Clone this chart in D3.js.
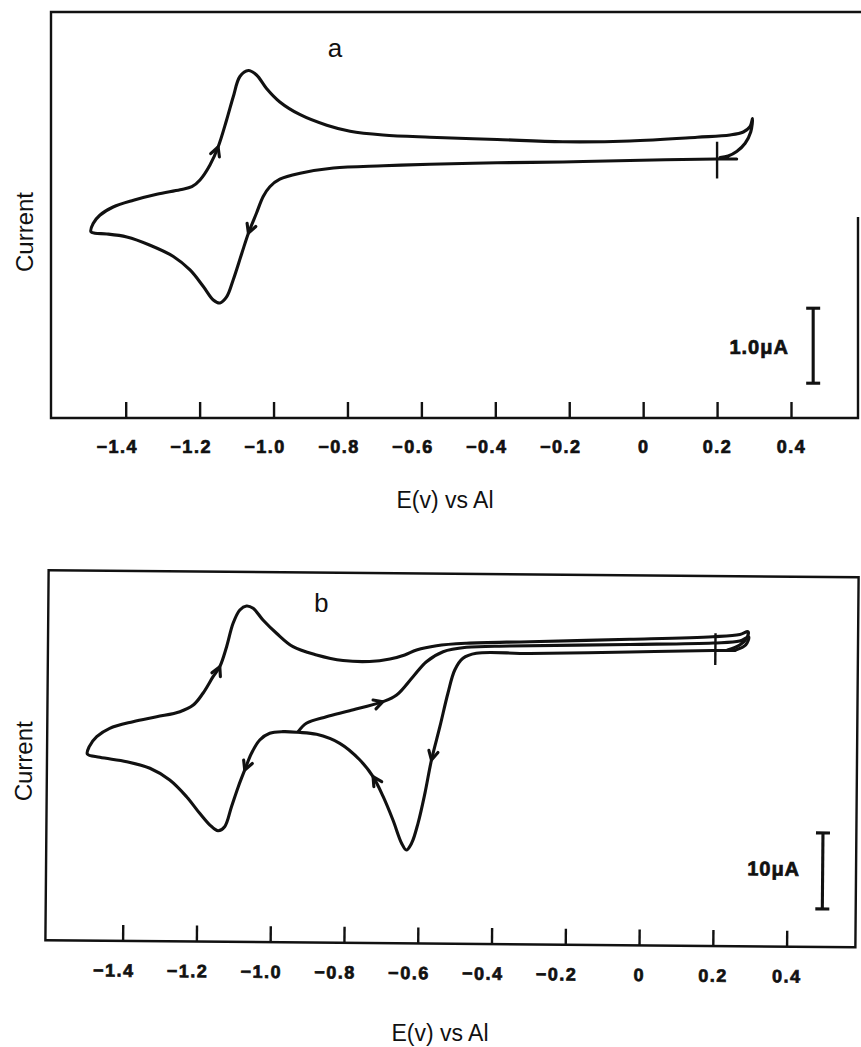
<!DOCTYPE html>
<html>
<head>
<meta charset="utf-8">
<script src="https://cdn.jsdelivr.net/npm/d3@7"></script>
<style>
  html, body { margin: 0; padding: 0; background: #fff; }
  svg { display: block; }
  text { font-family: "Liberation Sans", Arial, Helvetica, sans-serif; fill: #111; }
</style>
</head>
<body>
<svg id="chart" width="861" height="1047"></svg>
<script>
// ---- axis ticks (potential, V vs Al) ----
const tickValues = [-1.4, -1.2, -1.0, -0.8, -0.6, -0.4, -0.2, 0, 0.2, 0.4];
const tickLabels = ["\u22121.4", "\u22121.2", "\u22121.0", "\u22120.8", "\u22120.6", "\u22120.4", "\u22120.2", "0", "0.2", "0.4"];

// ---- voltammogram a: one cycle, scan order from the start potential ----
const potentialA = [
  0.253, 0.199, -0.036, -0.217, -0.395, -0.577, -0.703, -0.838, -0.928, -0.983,
  -1.010, -1.028, -1.046, -1.068, -1.086, -1.109, -1.127, -1.145, -1.163, -1.190,
  -1.226, -1.271, -1.334, -1.397, -1.451, -1.483, -1.494,
  -1.488, -1.470, -1.434, -1.379, -1.316, -1.253, -1.221, -1.199, -1.172, -1.150,
  -1.127, -1.109, -1.091, -1.068, -1.046, -1.019, -0.983, -0.928, -0.856, -0.793,
  -0.704, -0.577, -0.395, -0.217, -0.036, 0.146, 0.235, 0.271, 0.289, 0.296,
  0.291, 0.276, 0.253, 0.230, 0.208
];
const currentA = [
  -0.12, -0.12, -0.14, -0.16, -0.17, -0.19, -0.21, -0.24, -0.31, -0.39,
  -0.49, -0.62, -0.84, -1.11, -1.38, -1.73, -1.96, -2.04, -2.00, -1.82,
  -1.60, -1.42, -1.27, -1.16, -1.12, -1.11, -1.09,
  -0.98, -0.87, -0.76, -0.67, -0.59, -0.53, -0.49, -0.40, -0.20, 0.04,
  0.40, 0.71, 0.98, 1.06, 1.00, 0.82, 0.64, 0.47, 0.33, 0.25,
  0.20, 0.17, 0.14, 0.11, 0.12, 0.17, 0.20, 0.24, 0.31, 0.42,
  0.24, 0.09, -0.02, -0.08, -0.10
];
const arrowsA = [13, 36];          // sample indices carrying a direction arrow
const startPotentialA = 0.2;
const startMarkA = [0.11, -0.38];  // current span of the start-potential mark (uA)
const scaleBarA = { potential: 0.46, top: -2.11, span: 1.0, label: "1.0\u03bcA" };

// ---- voltammogram b: full cycle to -1.5 V ----
const potentialB1 = [
  0.253, 0.193, -0.032, -0.303, -0.448, -0.484, -0.506, -0.524, -0.545, -0.567,
  -0.584, -0.602, -0.619, -0.633, -0.646, -0.670, -0.697, -0.725, -0.761, -0.816,
  -0.879, -0.929, -0.970, -1.006, -1.033, -1.055, -1.073, -1.090, -1.108, -1.126,
  -1.144, -1.166, -1.194, -1.230, -1.276, -1.330, -1.393, -1.466, -1.500,
  -1.495, -1.475, -1.440, -1.377, -1.313, -1.250, -1.214, -1.188, -1.161, -1.143,
  -1.125, -1.108, -1.090, -1.072, -1.054, -1.027, -0.990, -0.945, -0.881, -0.809,
  -0.737, -0.682, -0.642, -0.610, -0.556, -0.475, -0.303, -0.032, 0.193, 0.266,
  0.288, 0.285, 0.266, 0.233
];
const currentB1 = [
  6.84, 6.81, 6.52, 6.21, 6.17, 5.50, 3.95, 0.88, -3.53, -7.92,
  -12.31, -16.26, -18.90, -19.79, -18.91, -15.86, -12.80, -10.18, -8.00, -5.83,
  -4.67, -4.43, -4.36, -4.59, -5.48, -7.24, -9.45, -11.65, -14.29, -16.93,
  -17.47, -16.73, -15.20, -13.03, -10.85, -9.33, -8.49, -7.94, -7.52,
  -6.56, -5.24, -4.12, -3.22, -2.54, -1.85, -0.96, 0.60, 2.79, 4.12,
  6.75, 9.84, 11.60, 12.13, 11.84, 10.31, 8.58, 6.83, 5.77, 5.07,
  4.97, 5.32, 5.87, 6.54, 7.13, 7.48, 7.76, 8.19, 8.63, 8.95,
  9.33, 8.50, 7.57, 6.89
];
const arrowsB1 = [9, 17, 26, 48];

// ---- voltammogram b: return sweep after reversal at -0.93 V ----
const potentialB2 = [
  -0.929, -0.907, -0.853, -0.790, -0.700, -0.663, -0.619, -0.583, -0.538, -0.475,
  -0.357, -0.032, 0.194, 0.266, 0.290, 0.282, 0.255
];
const currentB2 = [
  -4.35, -3.23, -2.34, -1.53, -0.30, 0.59, 3.02, 5.01, 6.34, 6.95,
  7.17, 7.51, 7.80, 8.09, 8.63, 7.58, 6.91
];
const arrowsB2 = [4];
const startPotentialB = 0.2;
const startMarkB = [9.08, 4.90];
const scaleBarB = { potential: 0.496, top: -17.07, span: 10, label: "10\u03bcA" };

// ---------------------------------------------------------------------------
const svg = d3.select("#chart");
svg.append("rect").attr("width", 861).attr("height", 1047).attr("fill", "#fff");

const INK = "#111";
const CURVE_W = 3.1;
const FRAME_W = 2.4;
const zip = (xs, ys) => xs.map((v, i) => [v, ys[i]]);

function drawCurve(g, x, y, pts, arrowIdx) {
  const line = d3.line()
    .x(d => x(d[0])).y(d => y(d[1]))
    .curve(d3.curveCatmullRom.alpha(0.5));
  g.append("path").attr("d", line(pts))
    .attr("fill", "none").attr("stroke", INK)
    .attr("stroke-width", CURVE_W).attr("stroke-linejoin", "round").attr("stroke-linecap", "round");

  // open chevrons pointing along the sweep direction
  arrowIdx.forEach(i => {
    const px = x(pts[i][0]), py = y(pts[i][1]);
    const dx = x(pts[i + 1][0]) - x(pts[i - 1][0]);
    const dy = y(pts[i + 1][1]) - y(pts[i - 1][1]);
    const len = Math.hypot(dx, dy) || 1;
    const ux = dx / len, uy = dy / len;
    const a = Math.PI / 6.5, L = 10;
    const arm = s => {
      const c = Math.cos(s * a), sn = Math.sin(s * a);
      const bx = -ux, by = -uy;
      return [px + L * (bx * c - by * sn), py + L * (bx * sn + by * c)];
    };
    const p1 = arm(1), p2 = arm(-1);
    g.append("path")
      .attr("d", `M${p1[0]},${p1[1]}L${px},${py}L${p2[0]},${p2[1]}`)
      .attr("fill", "none").attr("stroke", INK).attr("stroke-width", CURVE_W)
      .attr("stroke-linecap", "round").attr("stroke-linejoin", "round");
  });
}

function drawAxis(g, x, yAxis, pad) {
  const axis = d3.axisBottom(x)
    .tickValues(tickValues)
    .tickSize(-16)
    .tickPadding(pad)
    .tickFormat((d, i) => tickLabels[i]);
  const ag = g.append("g").attr("transform", `translate(0,${yAxis})`).call(axis);
  ag.select(".domain").remove();
  ag.selectAll(".tick line").attr("stroke", INK).attr("stroke-width", FRAME_W);
  ag.selectAll(".tick text")
    .attr("fill", INK)
    .attr("stroke", INK).attr("stroke-width", 0.7)
    .style("font-family", "'Liberation Sans', Arial, sans-serif")
    .style("font-size", "18px").style("font-weight", "bold")
    .style("letter-spacing", "1.5px")
    .attr("dx", (d) => d < 0 ? -9 : 0);
}

function drawScaleBar(g, x, y, bar, labelDx, labelDy, fontSize) {
  const bx = x(bar.potential), y1 = y(bar.top), y2 = y(bar.top - bar.span);
  g.append("line").attr("x1", bx).attr("x2", bx).attr("y1", y1).attr("y2", y2)
    .attr("stroke", INK).attr("stroke-width", CURVE_W);
  [y1, y2].forEach(yy => g.append("line")
    .attr("x1", bx - 7).attr("x2", bx + 7).attr("y1", yy).attr("y2", yy)
    .attr("stroke", INK).attr("stroke-width", CURVE_W));
  g.append("text").attr("x", bx + labelDx).attr("y", (y1 + y2) / 2 + labelDy)
    .attr("text-anchor", "middle")
    .attr("stroke", INK).attr("stroke-width", 0.7)
    .style("font-size", fontSize + "px").style("font-weight", "bold").style("letter-spacing", "1px")
    .text(bar.label);
}

function drawStartMark(g, x, y, e, span) {
  g.append("line").attr("x1", x(e)).attr("x2", x(e))
    .attr("y1", y(span[0])).attr("y2", y(span[1]))
    .attr("stroke", INK).attr("stroke-width", FRAME_W);
}

// ---------------- panel a ----------------
{
  const g = svg.append("g");
  const x = d3.scaleLinear().domain([-1.4, 0.4]).range([125.7, 791]);
  const y = d3.scaleLinear().domain([-3.57, 1.84]).range([417.7, 12]);
  const fr = { l: 51, r: 858, t: 12, b: 418 };

  g.append("path")
    .attr("d", `M861,${fr.t}L${fr.l},${fr.t}L${fr.l},${fr.b}L${fr.r},${fr.b}L${fr.r},217`)
    .attr("fill", "none").attr("stroke", INK).attr("stroke-width", FRAME_W);

  drawAxis(g, x, fr.b, 22);
  drawCurve(g, x, y, zip(potentialA, currentA), arrowsA);
  drawStartMark(g, x, y, startPotentialA, startMarkA);
  drawScaleBar(g, x, y, scaleBarA, -54, 8, 20);

  g.append("text").attr("x", 335).attr("y", 57).attr("text-anchor", "middle")
    .style("font-size", "26px").text("a");
  g.append("text").attr("transform", "translate(33,232) rotate(-90)")
    .attr("text-anchor", "middle").style("font-size", "24px").text("Current");
  g.append("text").attr("x", 445).attr("y", 508).attr("text-anchor", "middle")
    .style("font-size", "23px").text("E(v) vs Al");
}

// ---------------- panel b ----------------
{
  const g = svg.append("g").attr("transform", "rotate(0.5,452,758.75)");
  const x = d3.scaleLinear().domain([-1.4, 0.4]).range([124.2, 788.2]);
  const y = d3.scaleLinear().domain([-32.07, 16.61]).range([943.75, 573.75]);
  const fr = { l: 47, r: 857, t: 573.75, b: 943.75 };

  g.append("rect").attr("x", fr.l).attr("y", fr.t)
    .attr("width", fr.r - fr.l).attr("height", fr.b - fr.t)
    .attr("fill", "none").attr("stroke", INK).attr("stroke-width", FRAME_W);

  drawAxis(g, x, fr.b, 23);
  drawCurve(g, x, y, zip(potentialB1, currentB1), arrowsB1);
  drawCurve(g, x, y, zip(potentialB2, currentB2), arrowsB2);
  drawStartMark(g, x, y, startPotentialB, startMarkB);
  drawScaleBar(g, x, y, scaleBarB, -49, 5, 20);

  g.append("text").attr("x", 320).attr("y", 613).attr("text-anchor", "middle")
    .style("font-size", "26px").text("b");
  g.append("text").attr("transform", "translate(32,765) rotate(-90)")
    .attr("text-anchor", "middle").style("font-size", "24px").text("Current");
}
svg.append("text").attr("x", 440).attr("y", 1041).attr("text-anchor", "middle")
  .style("font-size", "23px").text("E(v) vs Al");
</script>
</body>
</html>
